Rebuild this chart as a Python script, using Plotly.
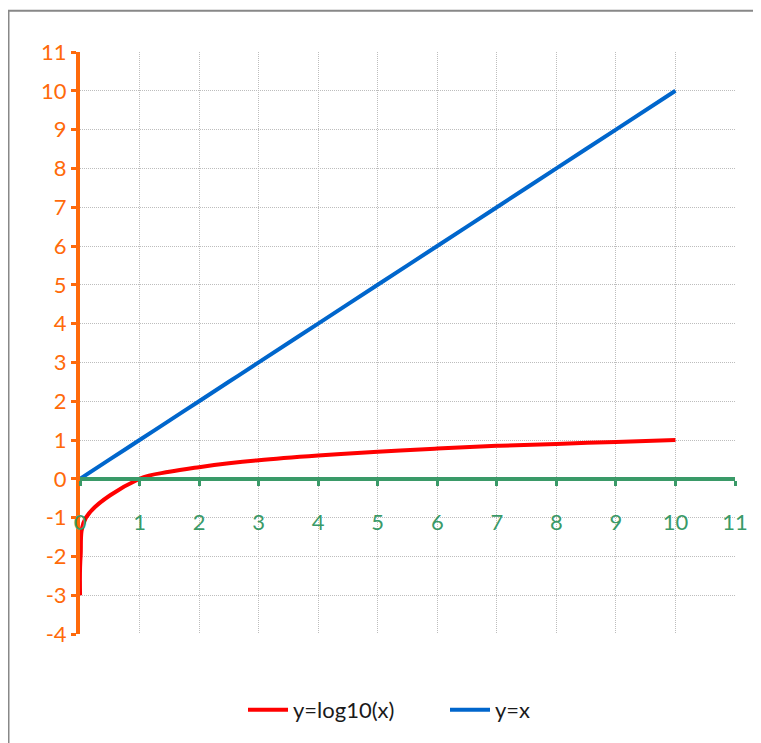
import plotly.graph_objects as go

# Data
log_x = [0.001, 0.01, 0.1, 1, 1.5, 2, 2.5, 3, 4, 5, 6, 7, 8, 9, 10]
log_y = [-3, -2, -1, 0, 0.18, 0.3, 0.4, 0.48, 0.6, 0.7, 0.78, 0.85, 0.9, 0.95, 1]
lin_x = [0, 0.5, 1, 1.5, 2, 2.5, 3, 4, 5, 6, 7, 8, 9, 10]
lin_y = [0, 0.5, 1, 1.5, 2, 2.5, 3, 4, 5, 6, 7, 8, 9, 10]
y_tick_vals = list(range(-4, 12))
y_tick_text = [str(v) for v in y_tick_vals]
x_tick_vals = list(range(0, 12))
x_tick_text = [str(v) for v in x_tick_vals]

ORANGE = "#FF6A0A"
GREEN = "#3A9A68"
FONT = "Lato"
GRID = "#bdbdbd"

fig = go.Figure()
fig.add_trace(go.Scatter(x=log_x, y=log_y, mode="lines", name="y=log10(x)",
                         line=dict(color="#FF0000", width=4, shape="spline")))
fig.add_trace(go.Scatter(x=lin_x, y=lin_y, mode="lines", name="y=x",
                         line=dict(color="#0066CC", width=4, shape="spline")))

# page body has an 8px margin; compensate so the plot lands where the reference is
OFF = 8
W, H = 761 - OFF, 743 - OFF
L, T = 80 - OFF, 52 - OFF
R = W - (735 - OFF)
B = 93
pw, ph = W - L - R, H - T - B

def px2x(p):
    return (p - OFF - L) / pw

def py2y(p):
    return (H - B - (p - OFF)) / ph

bx0, bx1 = px2x(8.5), px2x(790)
by0, by1 = py2y(800), py2y(9.5)
border_path = f"M {bx0},{by0} L {bx0},{by1} L {bx1},{by1} L {bx1},{by0}"

fig.update_layout(
    width=W, height=H,
    margin=dict(l=L, r=R, t=T, b=B),
    paper_bgcolor="white", plot_bgcolor="white",
    font=dict(family=FONT, size=21, color="#222222"),
    showlegend=True,
    legend=dict(orientation="h", x=px2x(243), xanchor="left", y=py2y(728), yanchor="middle",
                font=dict(size=22, color="#1a1a1a"), itemwidth=40, tracegroupgap=0,
                entrywidth=147),
    xaxis=dict(range=[0, 11], tickvals=x_tick_vals, ticktext=x_tick_text,
               anchor="free", position=4 / 15,
               showline=True, linecolor=GREEN, linewidth=4,
               ticks="outside", tickcolor=GREEN, tickwidth=3, ticklen=5,
               tickfont=dict(color=GREEN, size=22, family=FONT),
               ticklabelstandoff=18,
               showgrid=True, gridcolor=GRID, griddash="1px,1px", gridwidth=1,
               zeroline=False),
    yaxis=dict(range=[-4, 11], tickvals=y_tick_vals, ticktext=y_tick_text,
               showline=True, linecolor=ORANGE, linewidth=4,
               ticks="outside", tickcolor=ORANGE, tickwidth=3, ticklen=5,
               tickfont=dict(color=ORANGE, size=22, family=FONT),
               showgrid=True, gridcolor=GRID, griddash="1px,1px", gridwidth=1,
               zeroline=False),
    shapes=[dict(type="path", xref="paper", yref="paper", path=border_path,
                 line=dict(color="#888888", width=2), layer="below")],
)

fig.write_html("out.html")
